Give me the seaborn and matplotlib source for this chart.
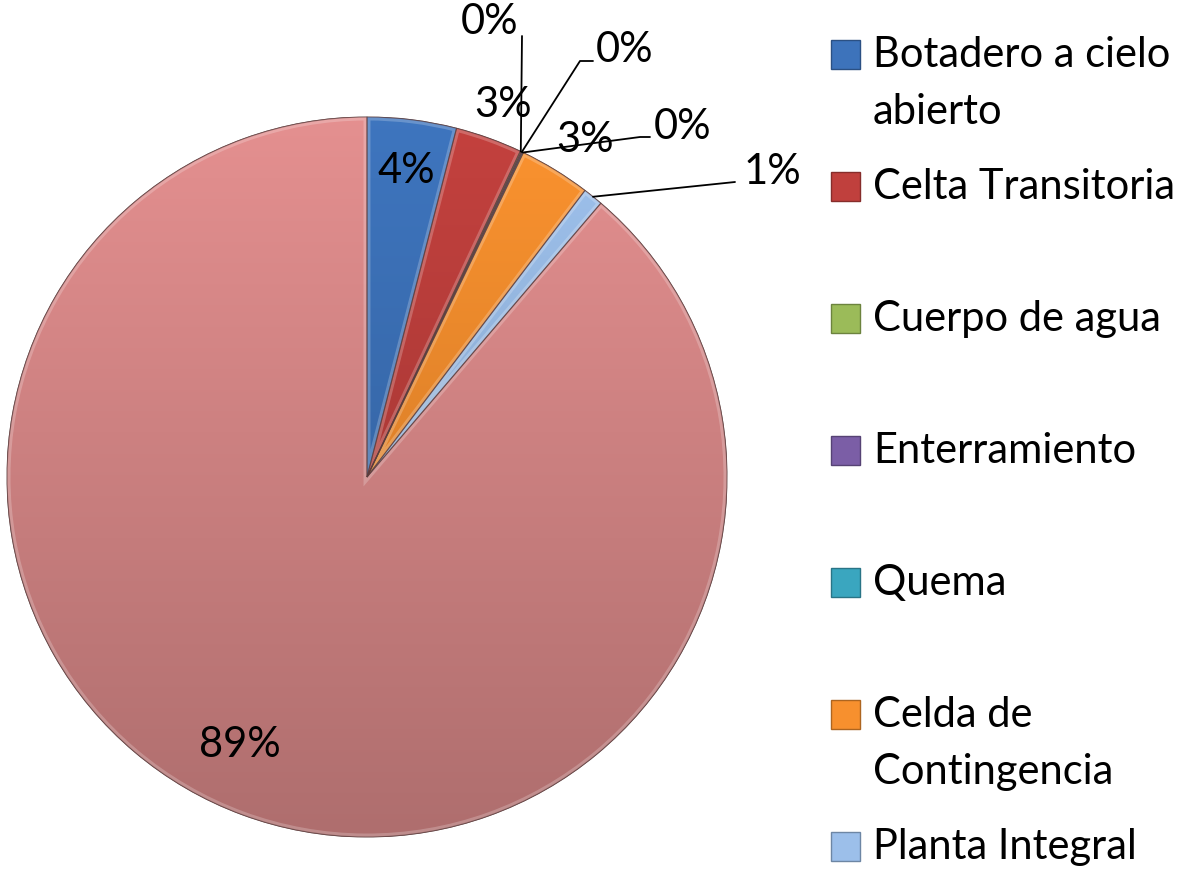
import numpy as np
import matplotlib
matplotlib.use("Agg")
import matplotlib.pyplot as plt
import matplotlib.colors as mcolors
from matplotlib.patches import Rectangle, PathPatch
import seaborn as sns

# slice values (%)
categories = ["Botadero a cielo\nabierto", "Celta Transitoria", "Cuerpo de agua",
              "Enterramiento", "Quema", "Celda de\nContingencia", "Planta Integral", ""]
values = [4.0, 3.0, 0.05, 0.05, 0.05, 3.2, 0.9, 88.75]
colors = ["#3d73bb", "#c0403d", "#9bbb59", "#7b5ea6", "#3aa6bf", "#f7902e", "#9cbfea", "#e08d8d"]

sns.set_theme(style="white")
plt.rcParams["font.family"] = ["Lato", "DejaVu Sans"]

W, H = 1189, 870
fig = plt.figure(figsize=(W / 100, H / 100), dpi=100)
fig.patch.set_facecolor("white")

# pie axes: centre (367, 478) px, radius 360 px
cx, cy, r = 367, 478, 360
ax = fig.add_axes([(cx - r) / W, (H - cy - r) / H, 2 * r / W, 2 * r / H])

wedges, texts, autotexts = ax.pie(
    values, colors=colors, startangle=90, counterclock=False,
    autopct="%.0f%%", pctdistance=0.86, radius=1,
    wedgeprops=dict(linewidth=0.7, edgecolor="#5a3c3c"),
    textprops=dict(fontsize=30, color="black"))

# vertical shading + light rim on every slice
grad = np.linspace(1.02, 0.78, 256)[:, None]
for w, c in zip(wedges, colors):
    rgb = np.array(mcolors.to_rgb(c))
    img = np.clip(grad[..., None] * rgb[None, None, :], 0, 1)
    im = ax.imshow(img, extent=(-1, 1, -1, 1), aspect="auto", zorder=w.get_zorder() + 0.1,
                   interpolation="bilinear")
    im.set_clip_path(w)
    rim = PathPatch(w.get_path(), fill=False, edgecolor="white", alpha=0.22, linewidth=5,
                    transform=w.get_transform(), zorder=w.get_zorder() + 0.2)
    ax.add_patch(rim)
    rim.set_clip_path(w)
    edge = PathPatch(w.get_path(), fill=False, edgecolor="#5a3c3c", alpha=0.6, linewidth=0.8,
                     transform=w.get_transform(), zorder=w.get_zorder() + 0.3)
    ax.add_patch(edge)
for t in autotexts:
    t.set_zorder(10)

# label placement (px positions of label and leader line points)
def px(x, y):
    return ((x - cx) / r, (cy - y) / r)

label_pos = {1: (503, 105), 2: (490, 22), 3: (625, 50), 4: (683, 127), 5: (585, 140),
             6: (772, 172), 7: (240, 745)}
leaders = {2: [(522, 37)], 3: [(580, 62), (593, 62)], 4: [(640, 138), (650, 138)],
           6: [(735, 183)]}
for i, (x, y) in label_pos.items():
    autotexts[i].set_position(px(x, y))
for i, pts in leaders.items():
    w = wedges[i]
    mid = np.deg2rad((w.theta1 + w.theta2) / 2)
    xs = [np.cos(mid)] + [px(*p)[0] for p in pts]
    ys = [np.sin(mid)] + [px(*p)[1] for p in pts]
    ax.plot(xs, ys, color="black", lw=1.3, zorder=9, clip_on=False)

ax.set_xlim(-1, 1)
ax.set_ylim(-1, 1)
ax.axis("off")

# legend drawn in pixel coordinates
lg = fig.add_axes([0, 0, 1, 1], zorder=-1)
lg.set_xlim(0, W)
lg.set_ylim(H, 0)
lg.axis("off")
for i, (name, c) in enumerate(zip(categories, colors)):
    if not name:
        continue
    y0 = 55 + 132 * i
    lg.add_patch(Rectangle((831, y0 - 14), 29, 29, facecolor=c,
                           edgecolor=mcolors.to_hex(np.array(mcolors.to_rgb(c)) * 0.7), lw=1))
    for k, line in enumerate(name.split("\n")):
        lg.text(873, y0 + 57 * k, line, fontsize=30, va="center", ha="left", color="black")

fig.savefig("out.png", dpi=100, facecolor="white")
